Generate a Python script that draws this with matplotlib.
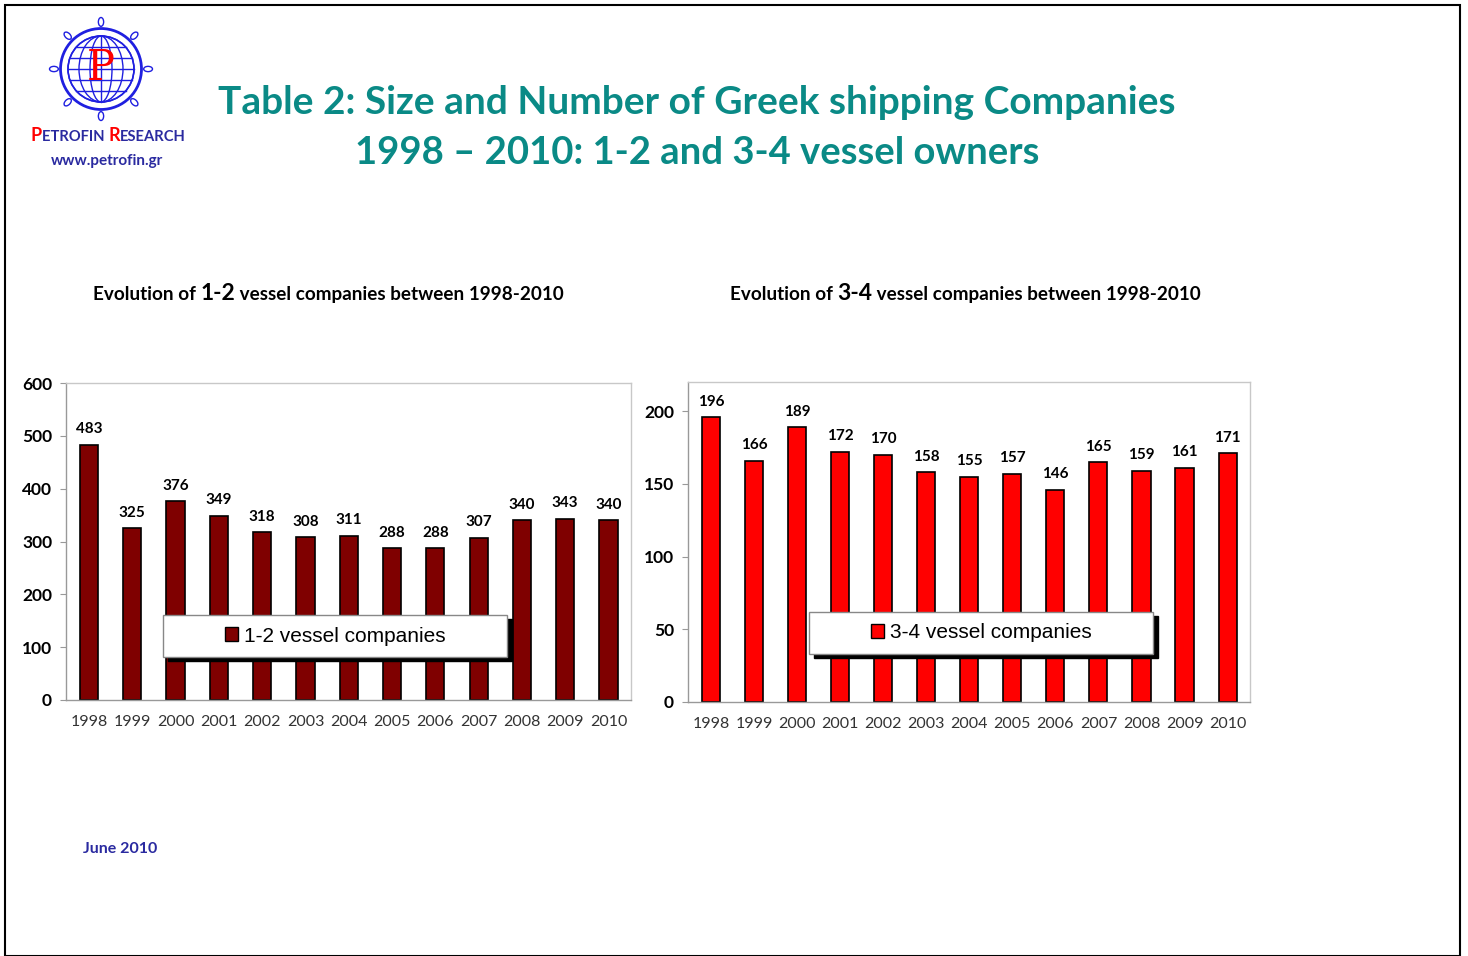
import numpy as np
import matplotlib
matplotlib.use("Agg")
import matplotlib.pyplot as plt
from matplotlib.patches import Rectangle, Circle, Ellipse

# data
years = ['1998', '1999', '2000', '2001', '2002', '2003', '2004',
         '2005', '2006', '2007', '2008', '2009', '2010']
small_cos = [483, 325, 376, 349, 318, 308, 311, 288, 288, 307, 340, 343, 340]
mid_cos = [196, 166, 189, 172, 170, 158, 155, 157, 146, 165, 159, 161, 171]
left_ticks = [0, 100, 200, 300, 400, 500, 600]
right_ticks = [0, 50, 100, 150, 200]

W, H = 1468, 956
TEAL = '#0a8a86'
NAVY = '#2a2aa0'

plt.rcParams['font.family'] = ['Lato', 'DejaVu Sans']

fig = plt.figure(figsize=(W / 100, H / 100), dpi=100)
fig.patch.set_facecolor('white')


def px(x, y, w, h):
    # pixel box (top-left origin) -> figure fraction
    return [x / W, 1 - (y + h) / H, w / W, h / H]


# outer frame
fig.add_artist(Rectangle((5 / W, 0), 1455 / W, 1 - 5 / H, transform=fig.transFigure,
                         fill=False, edgecolor='black', linewidth=1.5))


def bar_panel(rect, values, color, ylim, ticks, label, lx, ly):
    ax = fig.add_axes(rect)
    x = np.arange(len(values))
    ax.bar(x, values, width=0.42, color=color, edgecolor='black', linewidth=1.2, zorder=2)
    ax.set_xlim(-0.53, len(values) - 0.48)
    ax.set_ylim(0, ylim)
    ax.set_yticks(ticks)
    ax.set_yticklabels([str(t) for t in ticks], fontsize=12.5, fontweight='bold')
    ax.set_xticks(x)
    ax.set_xticklabels(years, fontsize=11.5, color='#333333')
    ax.tick_params(axis='x', length=0, pad=11)
    ax.tick_params(axis='y', length=4, color='#999999', pad=6)
    for s in ax.spines.values():
        s.set_color('#c8c8c8')
        s.set_linewidth(1)
    ax.spines['left'].set_color('#999999')
    ax.spines['bottom'].set_color('#999999')
    for xi, v in zip(x, values):
        ax.annotate(str(v), (xi, v), xytext=(0, 6), textcoords='offset points',
                    ha='center', va='bottom', fontsize=11, fontweight='bold')
    # legend box with hard shadow
    ax.add_patch(Rectangle(((lx + 5) / W, 1 - (ly + 46) / H), 344 / W, 42 / H,
                           transform=fig.transFigure, facecolor='black',
                           edgecolor='black', zorder=3.5, clip_on=False))
    ax.add_patch(Rectangle((lx / W, 1 - (ly + 42) / H), 344 / W, 42 / H,
                           transform=fig.transFigure, facecolor='white',
                           edgecolor='#888888', linewidth=1, zorder=4, clip_on=False))
    leg = ax.legend([Rectangle((0, 0), 1, 1, facecolor=color, edgecolor='black')],
                    [label], loc='center', frameon=False,
                    bbox_to_anchor=((lx + 172) / W, 1 - (ly + 21) / H),
                    bbox_transform=fig.transFigure, handlelength=0.65,
                    handleheight=0.65, handletextpad=0.25,
                    prop={'family': 'Liberation Sans', 'size': 15})
    leg.set_zorder(6)
    return ax


bar_panel(px(66, 383, 565, 317), small_cos, '#7f0000', 600, left_ticks,
          '1-2 vessel companies', 163, 615)
bar_panel(px(688, 382, 562, 320), mid_cos, '#ff0000', 220, right_ticks,
          '3-4 vessel companies', 809, 612)


def panel_title(x0, y0, key):
    # three pieces, the vessel-size key in a larger size; chained below
    t1 = fig.text(x0 / W, 1 - y0 / H, 'Evolution of ', fontsize=13.6,
                  fontweight='bold', va='baseline')
    t2 = fig.text(0, 0, key, fontsize=16.5, fontweight='bold', va='baseline')
    t3 = fig.text(0, 0, ' vessel companies between 1998-2010', fontsize=13.6,
                  fontweight='bold', va='baseline')
    return [t1, t2, t3]


# titles
fig.text(697 / W, 1 - 103 / H, 'Table 2: Size and Number of Greek shipping Companies',
         ha='center', va='center', fontsize=28, fontweight='bold', color=TEAL)
fig.text(697 / W, 1 - 153 / H, '1998 \u2013 2010: 1-2 and 3-4 vessel owners',
         ha='center', va='center', fontsize=27.5, fontweight='bold', color=TEAL)

chains = [panel_title(93, 300, '1-2'), panel_title(730, 300, '3-4')]

fig.text(83 / W, 1 - 849 / H, 'June 2010', fontsize=11.5, fontweight='bold',
         color=NAVY, va='center')

# logo
lax = fig.add_axes(px(46, 14, 110, 110))
lax.set_xlim(-1.25, 1.25)
lax.set_ylim(-1.25, 1.25)
lax.set_aspect('equal')
lax.axis('off')
blue = '#1f1fe0'
lax.add_patch(Circle((0, 0), 0.92, fill=False, edgecolor=blue, linewidth=2))
lax.add_patch(Circle((0, 0), 0.75, fill=False, edgecolor=blue, linewidth=1.2))
for w in [0.25, 0.5, 0.75]:
    lax.add_patch(Ellipse((0, 0), 2 * w, 1.5, fill=False, edgecolor=blue, linewidth=1))
for yy in [-0.5, -0.25, 0, 0.25, 0.5]:
    half = np.sqrt(0.75 ** 2 - yy ** 2)
    lax.plot([-half, half], [yy, yy], color=blue, linewidth=1)
lax.plot([0, 0], [-0.75, 0.75], color=blue, linewidth=1)
for ang in np.arange(0, 360, 45):
    r = np.deg2rad(ang)
    lax.add_patch(Ellipse((1.07 * np.cos(r), 1.07 * np.sin(r)), 0.12, 0.2,
                          angle=ang + 90, fill=False, edgecolor=blue, linewidth=1))
lax.text(0, 0.02, 'P', color='red', fontsize=30, family='DejaVu Serif',
         ha='center', va='center')

brand = [fig.text(31 / W, 1 - 141 / H, 'P', color='red', fontsize=13, fontweight='bold',
                  va='baseline'),
         fig.text(0, 0, 'ETROFIN ', color=NAVY, fontsize=10.6, fontweight='bold',
                  va='baseline'),
         fig.text(0, 0, 'R', color='red', fontsize=13, fontweight='bold', va='baseline'),
         fig.text(0, 0, 'ESEARCH', color=NAVY, fontsize=10.6, fontweight='bold',
                  va='baseline')]
fig.text(107 / W, 1 - 161 / H, 'www.petrofin.gr', fontsize=11, fontweight='bold',
         color=NAVY, ha='center', va='center')

# chain the multi-style text pieces side by side on a shared baseline
fig.canvas.draw()
renderer = fig.canvas.get_renderer()
inv = fig.transFigure.inverted()
for parts in chains + [brand]:
    x0, y0 = parts[0].get_position()
    xcur = parts[0].get_window_extent(renderer).x1
    for t in parts[1:]:
        t.set_position((inv.transform((xcur, 0))[0], y0))
        xcur += t.get_window_extent(renderer).width

fig.savefig('out.png', dpi=100, facecolor='white')
